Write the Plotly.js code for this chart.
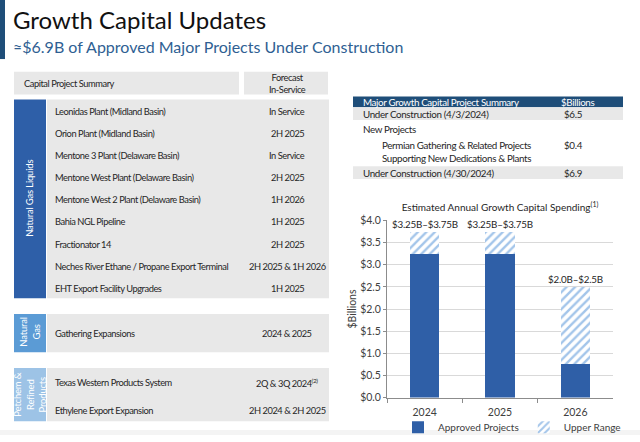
<!DOCTYPE html>
<html>
<head>
<meta charset="utf-8">
<script src="https://cdn.plot.ly/plotly-3.0.1.min.js"></script>
<style>
html,body{margin:0;padding:0;background:#fff;}
#chart{width:640px;height:442px;}
</style>
</head>
<body>
<div id="chart"></div>
<script>
// ---------- DATA ----------
const slideTitle = "Growth Capital Updates";
const slideSubtitle = "≈$6.9B of Approved Major Projects Under Construction";

const tableHeaders = ["Capital Project Summary", "Forecast<br>In-Service"];
const segmentNames = ["Natural Gas Liquids", "Natural<br>Gas", "Petchem &<br>Refined<br>Products"];

const nglProjects = [
  "Leonidas Plant (Midland Basin)",
  "Orion Plant (Midland Basin)",
  "Mentone 3 Plant (Delaware Basin)",
  "Mentone West Plant (Delaware Basin)",
  "Mentone West 2 Plant (Delaware Basin)",
  "Bahia NGL Pipeline",
  "Fractionator 14",
  "Neches River Ethane / Propane Export Terminal",
  "EHT Export Facility Upgrades"
];
const nglDates = ["In Service", "2H 2025", "In Service", "2H 2025", "1H 2026", "1H 2025", "2H 2025", "2H 2025 & 1H 2026", "1H 2025"];

const gasProjects = ["Gathering Expansions"];
const gasDates = ["2024 & 2025"];

const petchemProjects = ["Texas Western Products System", "Ethylene Export Expansion"];
const petchemDates = ["2Q & 3Q 2024<sup>(2)</sup>", "2H 2024 & 2H 2025"];

const summaryHeader = ["Major Growth Capital Project Summary", "$Billions"];
const summaryLabels = ["Under Construction (4/3/2024)", "New Projects", "Permian Gathering & Related Projects<br>Supporting New Dedications & Plants", "Under Construction (4/30/2024)"];
const summaryValues = ["$6.5", "", "$0.4", "$6.9"];

const chartTitle = "Estimated Annual Growth Capital Spending<sup>(1)</sup>";
const years = ["2024", "2025", "2026"];
const approved = [3.25, 3.25, 0.75];
const upperRange = [0.5, 0.5, 1.75];
const rangeLabels = ["$3.25B–$3.75B", "$3.25B–$3.75B", "$2.0B–$2.5B"];
const yTicks = [0, 0.5, 1, 1.5, 2, 2.5, 3, 3.5, 4];

// ---------- LAYOUT HELPERS ----------
const W = 640, H = 442;
const FONT = "Lato, 'Open Sans', sans-serif";
const px = x => x / W;
const py = y => 1 - y / H;

const shapes = [];
const annotations = [];
function rect(x0, y0, x1, y1, color) {
  shapes.push({type: "rect", xref: "paper", yref: "paper", x0: px(x0), x1: px(x1), y0: py(y1), y1: py(y0),
    fillcolor: color, line: {width: 0}, layer: "below"});
}
function tight(text, ls) {
  if (!ls) return text;
  return text.split("<br>").map(l => '<span style="letter-spacing:' + ls + 'px">' + l + '</span>').join("<br>");
}
function txt(text, x, y, o) {
  o = o || {};
  annotations.push({text: tight(text, o.ls), xref: "paper", yref: "paper", x: px(x), y: py(y),
    xanchor: o.xa || "left", yanchor: "middle", showarrow: false, textangle: o.angle || 0,
    align: o.align || (o.xa === "center" ? "center" : "left"),
    font: {family: FONT, size: o.size || 9, color: o.color || "#262626"}});
}

const GRAY = "#e8e8e8";
const NAVY = "#1f4e79";
const L = {size: 9.3, ls: -0.45};        // left table text
const R = {size: 9.8, ls: -0.35};        // right table text

// slide heading
rect(0, 0, 5, 60, NAVY);
txt(slideTitle, 11, 20, {size: 24, color: "#111111"});
txt(slideSubtitle, 11, 47, {size: 16, color: "#2f5f93"});
rect(0, 437, 640, 442, "#f4f4f4");

// left table header
rect(14, 73, 239, 96, GRAY);
rect(244, 73, 328, 96, GRAY);
txt(tableHeaders[0], 22, 85, L);
txt(tableHeaders[1], 287, 85, Object.assign({xa: "center"}, L));

// segment blocks
const colX = 53, dateX = 287;
rect(14, 101, 46, 303, "#2e5fa8");
rect(47, 101, 329, 303, GRAY);
txt(segmentNames[0], 30, 202, {xa: "center", angle: -90, color: "#ffffff", size: 9.5, ls: -0.2});
nglProjects.forEach((p, i) => {
  const y = 113 + i * 22.5;
  txt(p, colX, y, L);
  txt(nglDates[i], dateX, y, Object.assign({xa: "center"}, L));
});

rect(14, 319, 46, 358, "#5b9bd5");
rect(47, 319, 329, 358, GRAY);
txt(segmentNames[1], 30, 338, {xa: "center", angle: -90, color: "#ffffff", size: 9.5, ls: -0.2});
gasProjects.forEach((p, i) => {
  txt(p, colX, 339, L);
  txt(gasDates[i], dateX, 339, Object.assign({xa: "center"}, L));
});

rect(14, 374, 46, 428, "#9dc3e6");
rect(47, 374, 329, 428, GRAY);
txt(segmentNames[2], 30, 401, {xa: "center", angle: -90, color: "#ffffff", size: 9.5, ls: -0.2});
petchemProjects.forEach((p, i) => {
  const y = 389 + i * 28;
  txt(p, colX, y, L);
  txt(petchemDates[i], dateX, y, Object.assign({xa: "center"}, L));
});

// right summary table
rect(353, 98, 623, 109, NAVY);
rect(353, 109, 623, 122, GRAY);
rect(353, 169, 623, 182, GRAY);
txt(summaryHeader[0], 361, 103.5, Object.assign({color: "#ffffff"}, R));
txt(summaryHeader[1], 577, 103.5, Object.assign({xa: "center", color: "#ffffff"}, R));
const sumY = [115.5, 131, 153.5, 175.5];
const sumX = [361, 361, 380, 361];
summaryLabels.forEach((l, i) => {
  txt(l, sumX[i], sumY[i], R);
  if (summaryValues[i]) txt(summaryValues[i], 573, i === 2 ? 147 : sumY[i], Object.assign({xa: "center"}, R));
});

// bar-top range labels (data coordinates, category index)
years.forEach((yr, i) => {
  annotations.push({text: tight(rangeLabels[i], -0.2), xref: "x", yref: "y", x: i, y: approved[i] + upperRange[i],
    yanchor: "bottom", yshift: 0, showarrow: false, font: {family: FONT, size: 9.8, color: "#262626"}});
});

// ---------- TRACES ----------
const traces = [
  {type: "bar", name: "Approved Projects", x: years, y: approved,
   marker: {color: "#2f5fa7", line: {width: 0}}, hoverinfo: "skip"},
  {type: "bar", name: "Upper Range", x: years, y: upperRange,
   marker: {color: "#ffffff", line: {width: 0},
            pattern: {shape: "/", fgcolor: "#a3c5ea", bgcolor: "#ffffff", size: 6, solidity: 0.4}},
   hoverinfo: "skip"}
];

const layout = {
  width: W, height: H,
  margin: {l: 0, r: 0, t: 0, b: 0},
  paper_bgcolor: "#ffffff", plot_bgcolor: "#ffffff",
  font: {family: FONT, size: 10, color: "#404040"},
  barmode: "stack", bargap: 0.61,
  showlegend: true,
  legend: {orientation: "h", traceorder: "normal", x: px(512), xanchor: "center", y: py(434), yanchor: "middle",
           font: {family: FONT, size: 10, color: "#404040"}, itemwidth: 30, tracegroupgap: 0,
           bgcolor: "rgba(0,0,0,0)"},
  title: {text: chartTitle, x: px(500), xanchor: "center", y: py(211), yanchor: "middle", xref: "paper", yref: "paper",
          font: {family: FONT, size: 10, color: "#262626"}},
  xaxis: {domain: [px(387), px(613)], type: "category", range: [-0.5, 2.5], autorange: false,
          showline: true, linecolor: "#8c8c8c", linewidth: 1,
          ticks: "outside", tickson: "boundaries", ticklen: 4, tickcolor: "#8c8c8c", ticklabelstandoff: 5,
          tickfont: {family: FONT, size: 10.5, color: "#404040"}, fixedrange: true},
  yaxis: {domain: [py(404), py(224)], range: [0, 4], autorange: false, tickvals: yTicks, tickformat: "$.1f",
          showgrid: true, gridcolor: "#d9d9d9", gridwidth: 1, zeroline: false,
          showline: true, linecolor: "#8c8c8c", ticks: "outside", ticklen: 3, tickcolor: "#8c8c8c",
          tickfont: {family: FONT, size: 10.5, color: "#404040"},
          title: {text: "$Billions", standoff: 1, font: {family: FONT, size: 10.5, color: "#404040"}},
          fixedrange: true},
  shapes: shapes,
  annotations: annotations
};

Plotly.newPlot("chart", traces, layout, {staticPlot: true, displayModeBar: false});
</script>
</body>
</html>
